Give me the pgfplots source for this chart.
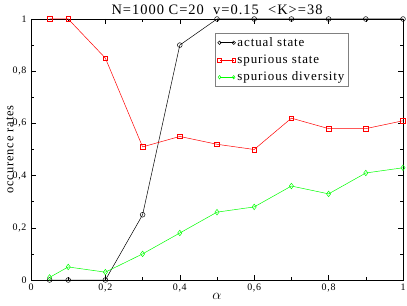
\documentclass[border=0pt]{standalone}
\usepackage{pgfplots}
\pgfplotsset{compat=1.18}
\usepackage{fontspec}
\setmainfont{Liberation Serif}[LetterSpace=7]
\begin{document}
\begin{tikzpicture}
\begin{axis}[
  name=ax,
  scale only axis, width=372bp, height=261bp,
  xmin=0, xmax=1, ymin=0, ymax=1,
  clip=false,
  xtick={0,0.2,0.4,0.6,0.8,1}, ytick={0,0.2,0.4,0.6,0.8,1},
  minor xtick={0.1,0.3,0.5,0.7,0.9}, minor ytick={0.1,0.3,0.5,0.7,0.9},
  tick align=inside, major tick length=5bp, minor tick length=3bp,
  tick style={black, line width=0.6pt},
  axis line style={line width=0.8pt},
  /pgf/number format/use comma,
  /pgf/number format/assume math mode=true,
  ticklabel style={font=\fontsize{10}{11}\selectfont},
  yticklabel style={xshift=-1pt},
  xlabel={$\alpha$}, ylabel={occurence rates},
  xlabel style={font=\fontsize{15}{16}\selectfont, at={(axis description cs:0.5,0)}, anchor=center, yshift=-16bp},
  ylabel style={font=\fontsize{12.5}{13}\selectfont, at={(axis description cs:0,0.5)}, anchor=center, yshift=21bp},
  title={N=1000 C=20\ \ v=0.15\ \ <K>=38},
  title style={font=\fontsize{14.5}{15}\selectfont, at={(axis description cs:0.5,1)}, anchor=center, yshift=3bp},
  legend style={at={(0.4955,0.946)}, anchor=north west, draw=gray, line width=0.8pt,
    font=\fontsize{13}{14}\selectfont, row sep=3pt, inner sep=2pt},
  legend cell align=left,
  legend image code/.code={\draw[#1, mark size=1.8pt] plot coordinates {(0cm,0cm) (0.5cm,0cm)};},
  every axis plot/.append style={line width=0.5pt},
]
\addplot[black, mark=o, mark size=2.4pt, mark options={solid}] coordinates {
(0.05,0) (0.1,0) (0.2,0) (0.3,0.25) (0.4,0.9) (0.5,1) (0.6,1) (0.7,1) (0.8,1) (0.9,1) (1.0,1)};
\addlegendentry{actual state}
\addplot[red, mark=square, mark size=2.3pt] coordinates {
(0.05,1) (0.1,1) (0.2,0.85) (0.3,0.51) (0.4,0.55) (0.5,0.52) (0.6,0.50) (0.7,0.62) (0.8,0.58) (0.9,0.58) (1.0,0.61)};
\addlegendentry{spurious state}
\addplot[green, mark=diamond, mark size=2.8pt] coordinates {
(0.05,0.01) (0.1,0.05) (0.2,0.03) (0.3,0.10) (0.4,0.18) (0.5,0.26) (0.6,0.28) (0.7,0.36) (0.8,0.33) (0.9,0.41) (1.0,0.43)};
\addlegendentry{spurious diversity}
\end{axis}
\pgfresetboundingbox
\path ([xshift=-31bp,yshift=-26bp]ax.south west) rectangle ([xshift=4bp,yshift=19bp]ax.north east);
\end{tikzpicture}
\end{document}
